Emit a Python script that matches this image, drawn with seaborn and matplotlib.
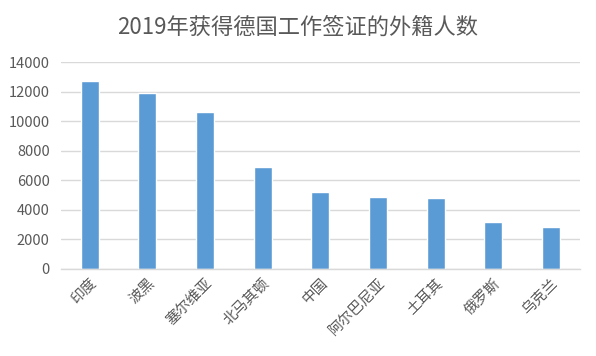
import matplotlib
matplotlib.use("Agg")
import matplotlib.pyplot as plt
import seaborn as sns
import pandas as pd

countries = ["印度", "波黑", "塞尔维亚", "北马其顿", "中国", "阿尔巴尼亚", "土耳其", "俄罗斯", "乌克兰"]
visas = [12730, 11920, 10630, 6910, 5220, 4880, 4810, 3180, 2850]
y_ticks = [0, 2000, 4000, 6000, 8000, 10000, 12000, 14000]

df = pd.DataFrame({"country": countries, "visas": visas})

sns.set_theme(style="white")
plt.rcParams["font.family"] = ["Noto Sans CJK SC", "DejaVu Sans"]

fig = plt.figure(figsize=(5.96, 3.56), dpi=100)
ax = fig.add_axes([0.102, 0.2444, 0.871, 0.581])

sns.barplot(data=df, x="country", y="visas", color="#5b9bd5", width=0.31,
            saturation=1, ax=ax)

ax.set_ylim(0, 14000)
ax.set_yticks(y_ticks)
ax.set_yticklabels([str(t) for t in y_ticks])
ax.set_xlim(-0.5, len(countries) - 0.5)
ax.yaxis.grid(True, color="#d9d9d9", linewidth=1)
ax.set_axisbelow(True)
for s in ["top", "right", "left"]:
    ax.spines[s].set_visible(False)
ax.spines["bottom"].set_color("#d9d9d9")
ax.spines["bottom"].set_linewidth(1)

ax.set_xlabel("")
ax.set_ylabel("")
ax.tick_params(axis="both", length=0, labelsize=10.5, labelcolor="#595959")
ax.tick_params(axis="y", pad=8)
ax.tick_params(axis="x", pad=5)
plt.setp(ax.get_xticklabels(), rotation=45, ha="right", rotation_mode="anchor")

fig.suptitle("2019年获得德国工作签证的外籍人数", x=0.5, y=0.955,
             fontsize=16, color="#595959")

fig.savefig("out.png", dpi=100)
